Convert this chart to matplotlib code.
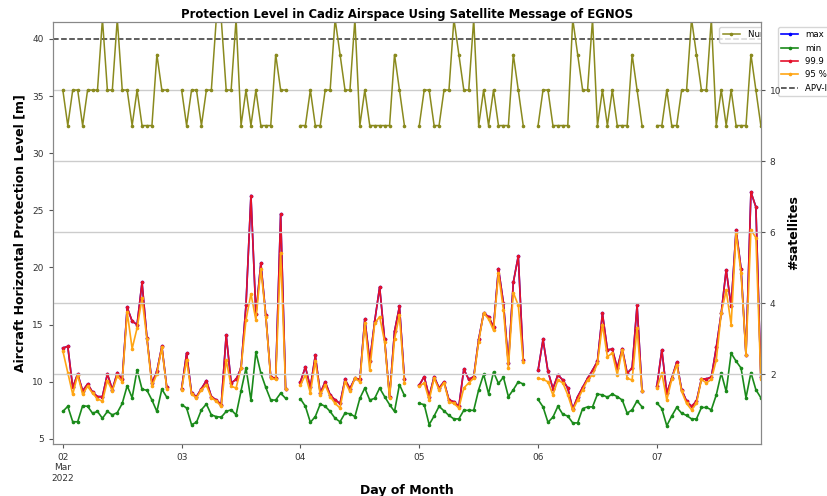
import matplotlib
matplotlib.use('Agg')
import matplotlib.pyplot as plt
import numpy as np
import pandas as pd

# Hourly EGNOS protection levels over Cadiz, 02-07 March 2022.
# Every day covers 00:00 .. 21:00 (22 hourly values), 22:00-23:00 have no data.
days = ['2022-03-02', '2022-03-03', '2022-03-04', '2022-03-05', '2022-03-06', '2022-03-07']
hours = list(range(22))

# number of satellites in view
n_sats = [
    10, 9, 10, 10, 9, 10, 10, 10, 12, 10, 10, 12, 10, 10, 9, 10, 9, 9, 9, 11, 10, 10,
    10, 9, 10, 10, 9, 10, 10, 12, 12, 10, 10, 12, 9, 10, 9, 10, 9, 9, 9, 11, 10, 10,
    9, 9, 10, 9, 9, 10, 10, 12, 11, 10, 10, 12, 9, 10, 9, 9, 9, 9, 9, 11, 10, 9,
    9, 10, 10, 9, 9, 10, 10, 12, 11, 10, 10, 12, 9, 10, 9, 10, 9, 9, 9, 11, 10, 9,
    9, 10, 10, 9, 9, 9, 9, 12, 11, 10, 10, 12, 9, 10, 9, 10, 9, 9, 9, 11, 10, 9,
    9, 9, 10, 9, 9, 10, 10, 12, 11, 10, 10, 12, 9, 10, 9, 10, 9, 9, 9, 11, 10, 9,
]

# HPL percentiles [m]
pl_999 = [
    12.95, 13.1, 9.5, 10.7, 9.2, 9.8, 9.1, 8.7, 8.7, 10.7, 9.3, 10.8, 10.2, 16.5, 15.3, 15.0, 18.7, 13.8, 9.9, 10.9, 13.1, 9.5,
    9.4, 12.5, 9.0, 8.7, 9.4, 10.1, 8.7, 8.4, 8.0, 14.1, 9.9, 10.2, 11.2, 16.7, 26.3, 15.9, 20.4, 15.8, 10.4, 10.3, 24.7, 9.4,
    10.0, 11.3, 9.5, 12.3, 9.0, 10.0, 8.85, 8.4, 8.1, 10.2, 9.4, 10.3, 10.2, 15.5, 11.8, 15.3, 18.3, 13.7, 8.7, 14.4, 16.6, 10.2,
    9.7, 10.45, 8.7, 10.45, 9.45, 10.0, 8.4, 8.25, 7.85, 11.1, 10.2, 10.45, 13.7, 16.0, 15.7, 14.8, 19.9, 16.9, 11.6, 18.7, 21.0, 11.9,
    11.0, 13.7, 10.9, 9.4, 10.6, 10.15, 9.45, 7.6, 8.7, 9.5, 10.3, 11.0, 11.8, 16.0, 12.8, 12.85, 11.2, 12.9, 10.75, 11.2, 16.7, 9.15,
    9.6, 12.8, 9.0, 10.3, 11.7, 9.3, 8.3, 7.85, 8.3, 10.25, 10.25, 10.4, 13.0, 16.0, 19.8, 16.6, 23.3, 19.9, 12.35, 26.6, 25.3, 10.4,
]
pl_95 = [
    12.7, 10.8, 8.9, 10.6, 8.9, 9.6, 9.0, 8.5, 8.3, 10.1, 9.2, 10.5, 10.0, 16.1, 12.9, 14.7, 17.3, 13.7, 9.6, 10.7, 13.0, 9.4,
    9.3, 11.9, 8.9, 8.6, 9.3, 9.7, 8.6, 8.3, 7.85, 11.9, 9.6, 9.45, 11.2, 15.4, 17.7, 15.4, 19.9, 15.7, 10.3, 10.2, 21.3, 9.4,
    9.7, 10.6, 9.0, 11.8, 8.85, 9.7, 8.7, 8.1, 7.7, 10.0, 9.15, 10.3, 10.0, 15.1, 11.0, 15.1, 15.7, 13.5, 8.55, 13.7, 15.85, 9.9,
    9.6, 9.9, 8.4, 10.3, 9.3, 9.9, 8.25, 8.1, 7.7, 9.45, 9.9, 10.3, 13.5, 16.0, 15.5, 14.5, 19.5, 16.3, 11.2, 17.8, 16.7, 11.75,
    10.3, 10.2, 10.0, 8.85, 10.15, 9.9, 8.85, 7.5, 8.4, 9.3, 10.15, 10.6, 11.6, 15.0, 12.2, 12.5, 10.6, 12.8, 10.3, 10.15, 14.7, 9.15,
    9.45, 10.75, 8.4, 10.2, 11.5, 9.15, 8.1, 7.55, 8.1, 10.2, 9.9, 10.2, 11.9, 16.0, 18.0, 15.0, 23.0, 19.5, 12.35, 23.3, 22.6, 10.2,
]
pl_min = [
    7.4, 7.85, 6.5, 6.5, 7.9, 7.85, 7.25, 7.4, 6.8, 7.4, 7.1, 7.3, 8.1, 9.65, 8.6, 11.05, 9.35, 9.25, 8.4, 7.4, 9.35, 8.65,
    8.0, 7.7, 6.25, 6.45, 7.55, 8.05, 7.1, 6.95, 6.9, 7.4, 7.55, 7.1, 9.2, 11.2, 8.4, 12.6, 10.75, 9.5, 8.4, 8.4, 9.0, 8.55,
    8.5, 7.85, 6.45, 6.95, 8.05, 7.85, 7.4, 6.8, 6.5, 7.25, 7.2, 6.95, 8.55, 9.45, 8.4, 8.55, 9.45, 8.7, 8.0, 7.4, 9.75, 8.8,
    8.1, 8.0, 6.25, 7.0, 7.85, 7.45, 7.05, 6.75, 6.75, 7.5, 7.5, 7.5, 9.3, 10.65, 8.95, 10.85, 9.85, 10.4, 8.7, 9.3, 10.0, 9.8,
    8.45, 7.8, 6.45, 6.9, 7.85, 7.15, 7.0, 6.4, 6.4, 7.65, 7.8, 7.8, 8.92, 8.85, 8.65, 8.92, 8.7, 8.4, 7.25, 7.55, 8.33, 7.8,
    8.15, 7.65, 6.15, 7.0, 7.75, 7.25, 7.05, 6.75, 6.75, 7.75, 7.75, 7.55, 8.85, 10.75, 9.15, 12.5, 11.8, 11.2, 8.6, 10.8, 9.3, 8.6,
]
# with this few epochs per hour the max and the 99.9 % value coincide
pl_max = list(pl_999)

apv_limit = 40  # APV-I horizontal alert limit [m]

# build an hourly time index, hours without data stay NaN so the lines break
stamps = [pd.Timestamp(d) + pd.Timedelta(hours=h) for d in days for h in hours]
full_index = pd.date_range('2022-03-01 22:00', '2022-03-07 21:00', freq='h')
df = pd.DataFrame({'max': pl_max, 'min': pl_min, '99.9 %': pl_999, '95 %': pl_95,
                   'sats': n_sats}, index=stamps).reindex(full_index)

fig = plt.figure(figsize=(8.27, 4.96), dpi=100)
ax = fig.add_axes([0.064, 0.105, 0.856, 0.851])

line_kw = dict(marker='o', markersize=1.6, linewidth=1.2)
ax.plot(df.index, df['max'], color='blue', label='max', **line_kw)
ax.plot(df.index, df['min'], color='#1a8a1a', label='min', **line_kw)
ax.plot(df.index, df['99.9 %'], color='#e4112b', label='99.9 %', **line_kw)
ax.plot(df.index, df['95 %'], color='#ffa514', label='95 %', **line_kw)
ax.axhline(apv_limit, color='#333333', linestyle='--', linewidth=1.1, label='APV-I limit')

ax.set_xlim(full_index[0], full_index[-1])
ax.set_ylim(4.56, 41.5)
ax.set_yticks([5, 10, 15, 20, 25, 30, 35, 40])

tick_pos = [pd.Timestamp(d) for d in days]
ax.set_xticks(tick_pos)
ax.set_xticklabels(['02\nMar\n2022'] + [d[-2:] for d in days[1:]])

ax2 = ax.twinx()
ax2.plot(df.index, df['sats'], color='#8a8a1e', label='Number of satellites',
         marker='o', markersize=1.6, linewidth=1.1)
ax2.set_ylim(0.04, 11.92)
ax2.set_yticks([2, 4, 6, 8, 10])
ax2.grid(True, axis='y', color='#cccccc', linewidth=1.0)
ax2.set_xlim(full_index[0], full_index[-1])

for a in (ax, ax2):
    a.tick_params(labelsize=6.5, labelcolor='#333333', color='#555555', length=3)
    for s in a.spines.values():
        s.set_color('#888888')

ax.set_title('Protection Level in Cadiz Airspace Using Satellite Message of EGNOS',
             fontsize=8.4, fontweight='bold', pad=3)
ax.set_xlabel('Day of Month', fontsize=9, fontweight='bold', labelpad=1)
ax.set_ylabel('Aircraft Horizontal Protection Level [m]', fontsize=9, fontweight='bold')
ax2.set_ylabel('#satellites', fontsize=9, fontweight='bold')

# satellites legend sits in the upper right corner, cut at the axes border
leg2 = ax2.legend(loc='upper left', bbox_to_anchor=(0.941, 0.988), borderaxespad=0,
                  fontsize=6.2, handletextpad=1.0)
for art in leg2.findobj():
    art.set_clip_box(ax2.bbox)
    art.set_clip_on(True)

ax.legend(loc='upper left', bbox_to_anchor=(1.024, 0.988), borderaxespad=0, fontsize=6.2)

fig.savefig('out.png', dpi=100)
